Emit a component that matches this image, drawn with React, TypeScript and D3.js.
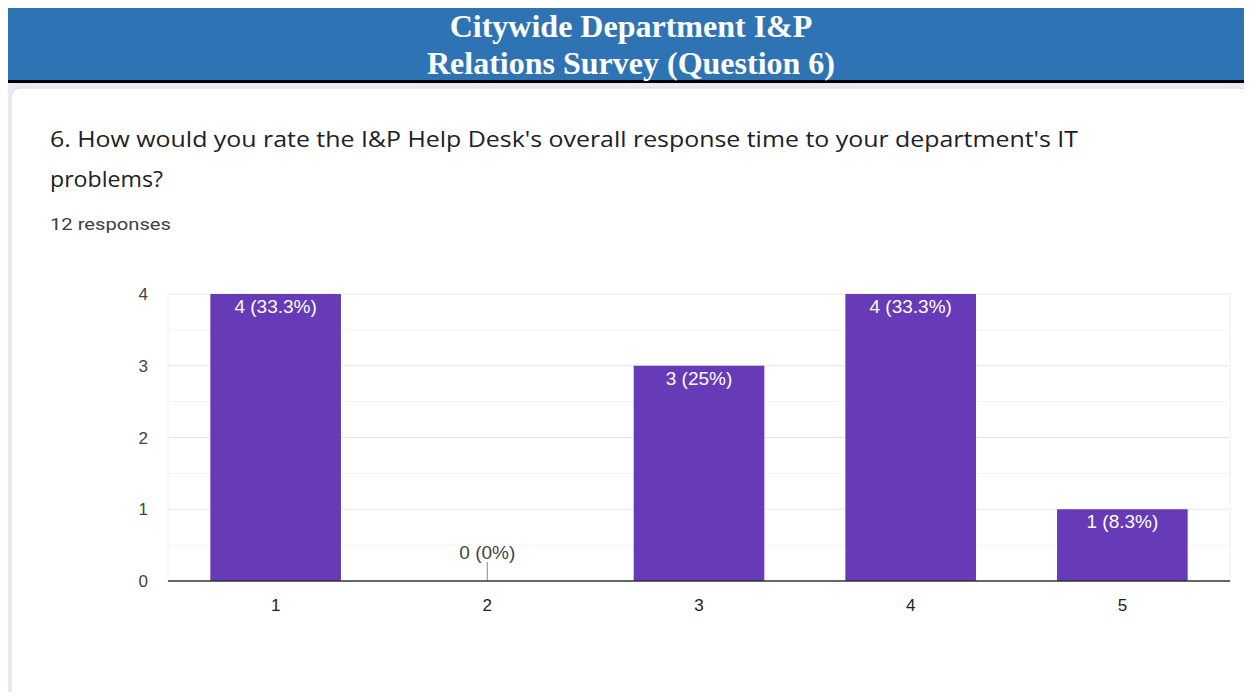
import * as d3 from 'd3';
import { ReactElement } from 'react';

// ─ Data ─────────────────────────────────────────────────────────────────────
const categories = ['1', '2', '3', '4', '5'];
const counts = [4, 0, 3, 4, 1];
const percentLabels = ['33.3%', '0%', '25%', '33.3%', '8.3%'];
const yTicks = [0, 1, 2, 3, 4];
const minorTicks = [0.5, 1.5, 2.5, 3.5];

const headerLines = ['Citywide Department I&P', 'Relations Survey (Question 6)'];
const questionLines = [
  "6. How would you rate the I&P Help Desk's overall response time to your department's IT",
  'problems?',
];
const questionWidths = [1028, 113];
const responsesText = '12 responses';

const W = 1252;
const H = 700;
const sans = "'Liberation Sans', Arial, sans-serif";

const App = (): ReactElement => {
  const plot = { left: 168, right: 1230, top: 294, bottom: 581 };

  const x = d3.scaleBand<string>()
    .domain(categories)
    .range([plot.left, plot.right])
    .paddingInner(0.383)
    .paddingOuter(0.2);

  const y = d3.scaleLinear()
    .domain([0, 4])
    .range([plot.bottom, plot.top]);

  const purple = '#673ab7';

  return (
    <div style={{ margin: -8 }}>
      <svg width={W} height={H} style={{ display: 'block' }}>
        {/* page backdrop */}
        <rect x={0} y={0} width={W} height={H} fill="#ede7f6" />

        {/* header band */}
        <rect x={0} y={0} width={W} height={83} fill="#000" />
        <rect x={5} y={5} width={W - 5} height={75} fill="#2e74b5" />
        {headerLines.map((t, i) => (
          <text
            key={t}
            x={W / 2 + 5}
            y={37 + i * 37}
            textAnchor="middle"
            fill="#fff"
            fontFamily="'Liberation Serif', 'Times New Roman', serif"
            fontWeight="bold"
            fontSize={32}
          >
            {t}
          </text>
        ))}

        {/* card */}
        <rect x={11} y={88} width={1237} height={630} rx={9} fill="#fff" stroke="#dadce0" strokeWidth={1} />

        {questionLines.map((t, i) => (
          <text
            key={t}
            x={50}
            y={147 + i * 40}
            fill="#202124"
            fontFamily="'Open Sans', Roboto, sans-serif"
            fontSize={21}
            textLength={questionWidths[i]}
            lengthAdjust="spacingAndGlyphs"
          >
            {t}
          </text>
        ))}
        <text
          x={50}
          y={230}
          fill="#3c4043"
          fontFamily="Roboto, sans-serif"
          fontSize={17}
          textLength={121}
          lengthAdjust="spacingAndGlyphs"
        >
          {responsesText}
        </text>

        {/* grid */}
        {minorTicks.map(t => (
          <line key={`m${t}`} x1={plot.left} x2={plot.right} y1={y(t)} y2={y(t)} stroke="#f3f3f3" />
        ))}
        {yTicks.filter(t => t > 0).map(t => (
          <line key={`g${t}`} x1={plot.left} x2={plot.right} y1={y(t)} y2={y(t)} stroke="#e6e6e6" />
        ))}
        <line x1={plot.left} x2={plot.left} y1={plot.top} y2={plot.bottom} stroke="#f0f0f0" />
        <line x1={plot.right} x2={plot.right} y1={plot.top} y2={plot.bottom} stroke="#f0f0f0" />

        {/* y labels */}
        {yTicks.map(t => (
          <text
            key={`y${t}`}
            x={148}
            y={y(t) + 6}
            textAnchor="end"
            fill="#444"
            fontFamily={sans}
            fontSize={17}
          >
            {t}
          </text>
        ))}

        {/* bars */}
        {categories.map((c, i) => {
          const bx = x(c) || 0;
          const cx = bx + x.bandwidth() / 2;
          const label = `${counts[i]} (${percentLabels[i]})`;
          if (counts[i] === 0) {
            return (
              <g key={c}>
                <line x1={cx} x2={cx} y1={y(0) - 19} y2={y(0)} stroke="#888" />
                <text
                  x={cx}
                  y={y(0) - 22}
                  textAnchor="middle"
                  fill="#444"
                  fontFamily={sans}
                  fontSize={19}
                >
                  {label}
                </text>
              </g>
            );
          }
          return (
            <g key={c}>
              <rect x={bx} y={y(counts[i])} width={x.bandwidth()} height={y(0) - y(counts[i])} fill={purple} />
              <text
                x={cx}
                y={y(counts[i]) + 19}
                textAnchor="middle"
                fill="#fff"
                fontFamily={sans}
                fontSize={19}
              >
                {label}
              </text>
            </g>
          );
        })}

        {/* x axis */}
        <line x1={plot.left} x2={plot.right} y1={plot.bottom} y2={plot.bottom} stroke="#333" strokeWidth={1.5} />
        {categories.map(c => (
          <text
            key={`x${c}`}
            x={(x(c) || 0) + x.bandwidth() / 2}
            y={611}
            textAnchor="middle"
            fill="#222"
            fontFamily={sans}
            fontSize={17}
          >
            {c}
          </text>
        ))}
      </svg>
    </div>
  );
};

export default App;
